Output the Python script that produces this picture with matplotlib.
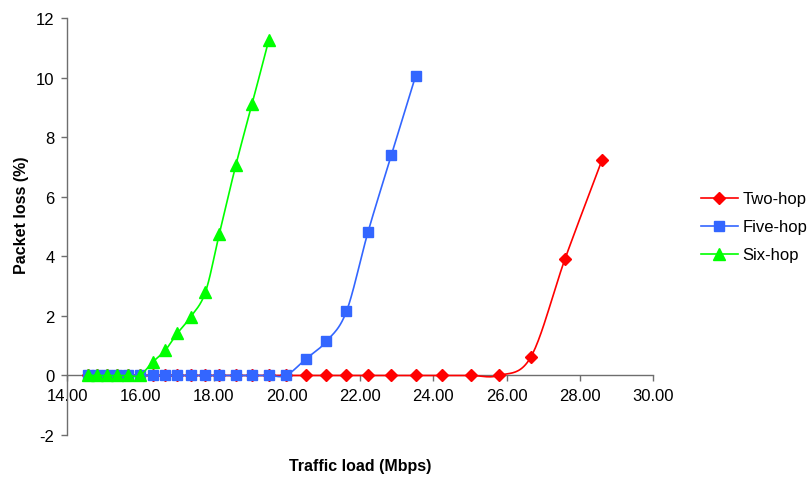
import numpy as np
import matplotlib
matplotlib.use("Agg")
import matplotlib.pyplot as plt
from matplotlib.ticker import FormatStrFormatter
from matplotlib.lines import Line2D

# Offered traffic load (Mbps), shared by all three scenarios
traffic_load = [14.58, 14.83, 15.08, 15.37, 15.67, 15.99, 16.34, 16.68, 17.01,
                17.38, 17.78, 18.16, 18.61, 19.05, 19.51, 19.98, 20.52, 21.08,
                21.63, 22.22, 22.86, 23.52, 24.25, 25.02, 25.80, 26.67, 27.60,
                28.61]

# Packet loss (%) per hop count
two_hop = [0.0] * 25 + [0.63, 3.92, 7.24]
five_hop = [0.0] * 16 + [0.55, 1.14, 2.15, 4.82, 7.41, 10.06]
six_hop = [0.0] * 6 + [0.45, 0.84, 1.41, 1.97, 2.80, 4.76, 7.06, 9.10, 11.26]

series_names = ["Two-hop", "Five-hop", "Six-hop"]
x_ticks = [14, 16, 18, 20, 22, 24, 26, 28, 30]
y_ticks = [-2, 0, 2, 4, 6, 8, 10, 12]


def smooth(x, y, n=24):
    """Cubic Bezier smoothing through every point (spreadsheet-style)."""
    x = np.asarray(x, float)
    y = np.asarray(y, float)
    p = np.column_stack([x, y])
    pts = [p[0]]
    m = len(p)
    for i in range(m - 1):
        p0 = p[i - 1] if i > 0 else p[i]
        p1 = p[i]
        p2 = p[i + 1]
        p3 = p[i + 2] if i + 2 < m else p[i + 1]
        c1 = p1 + (p2 - p0) / 6.0
        c2 = p2 - (p3 - p1) / 6.0
        t = np.linspace(0, 1, n)[1:, None]
        seg = ((1 - t) ** 3) * p1 + 3 * ((1 - t) ** 2) * t * c1 \
            + 3 * (1 - t) * t ** 2 * c2 + t ** 3 * p2
        pts.extend(seg)
    pts = np.array(pts)
    return pts[:, 0], pts[:, 1]


plt.rcParams["font.family"] = ["Liberation Sans", "DejaVu Sans"]
plt.rcParams["axes.unicode_minus"] = False
fs = 12
fs_label = 11.5

fig = plt.figure(figsize=(8.09, 4.81), dpi=100)
W, H = 809, 481
ax = fig.add_axes([67 / W, 1 - 436 / H, (653 - 67) / W, (436 - 19) / H])

styles = [
    dict(color="#FF0000", marker="D", ms=5.8),
    dict(color="#3366FF", marker="s", ms=6.8),
    dict(color="#00FF00", marker="^", ms=8.0),
]
data = [two_hop, five_hop, six_hop]

handles = []
for k, (name, vals, st) in enumerate(zip(series_names, data, styles)):
    xs = traffic_load[:len(vals)]
    sx, sy = smooth(xs, vals)
    ax.plot(sx, sy, color=st["color"], lw=1.2, zorder=3 + 2 * k,
            solid_capstyle="round")
    ax.plot(xs, vals, linestyle="none", marker=st["marker"], ms=st["ms"],
            color=st["color"], mec=st["color"], zorder=4 + 2 * k)
    handles.append(Line2D([], [], color=st["color"], lw=1.2,
                          marker=st["marker"], ms=st["ms"], mec=st["color"]))

ax.set_xlim(14, 30)
ax.set_ylim(-2, 12)
ax.set_xticks(x_ticks)
ax.set_yticks(y_ticks)
ax.xaxis.set_major_formatter(FormatStrFormatter("%.2f"))

axis_color = "#6e6e6e"
for side in ["top", "right"]:
    ax.spines[side].set_visible(False)
ax.spines["bottom"].set_position(("data", 0))
ax.spines["left"].set_position(("data", 14))
for side in ["bottom", "left"]:
    ax.spines[side].set_color(axis_color)
    ax.spines[side].set_linewidth(1.0)

ax.tick_params(axis="x", direction="out", length=4, width=1.0,
               color=axis_color, labelsize=fs, pad=5, labelcolor="black")
ax.tick_params(axis="y", direction="out", length=4, width=1.0,
               color=axis_color, labelsize=fs, pad=5, labelcolor="black")

fig.text(360 / W, 1 - 467 / H, "Traffic load (Mbps)", ha="center",
         va="center", fontsize=fs_label, fontweight="bold")
fig.text(22 / W, 1 - 215 / H, "Packet loss (%)", ha="center", va="center",
         rotation=90, fontsize=fs_label, fontweight="bold")

fig.legend(handles, series_names, loc="center left",
           bbox_to_anchor=(701 / W, 1 - 228 / H), frameon=False,
           fontsize=fs, handlelength=2.2, handletextpad=0.3,
           labelspacing=0.78, borderpad=0, borderaxespad=0)

fig.savefig("out.png", dpi=100)
